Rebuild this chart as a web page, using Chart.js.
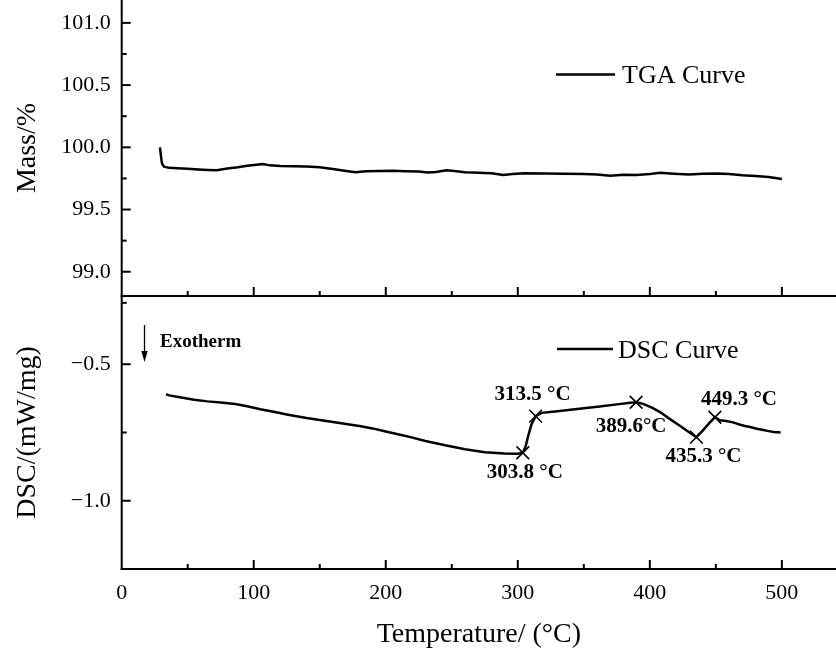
<!DOCTYPE html>
<html>
<head>
<meta charset="utf-8">
<script src="https://cdn.jsdelivr.net/npm/chart.js@4.4.1/dist/chart.umd.min.js"></script>
<style>
  html, body { margin: 0; padding: 0; background: #fff; overflow: hidden; }
  canvas { display: block; }
</style>
</head>
<body>
<canvas id="c" width="836" height="657"></canvas>
<script>
// ---------- data ----------
const tgaTemp = [29, 29.5, 30.5, 32, 36, 42, 50, 58, 65, 72, 80, 88, 95, 102, 107, 112, 120, 130, 140, 150, 160, 170, 177, 185, 195, 205, 215, 225, 232, 238, 246, 252, 260, 270, 280, 289, 296, 305, 320, 335, 350, 360, 370, 380, 390, 400, 408, 418, 430, 440, 450, 460, 470, 480, 490, 500];
const tgaMass = [100.0, 99.95, 99.87, 99.845, 99.835, 99.832, 99.828, 99.822, 99.818, 99.815, 99.83, 99.84, 99.852, 99.86, 99.865, 99.855, 99.85, 99.848, 99.845, 99.84, 99.825, 99.81, 99.8, 99.808, 99.81, 99.812, 99.808, 99.805, 99.798, 99.802, 99.815, 99.81, 99.8, 99.795, 99.792, 99.778, 99.785, 99.792, 99.79, 99.788, 99.785, 99.782, 99.772, 99.78, 99.778, 99.785, 99.795, 99.788, 99.782, 99.788, 99.79, 99.785, 99.775, 99.77, 99.762, 99.745];

const dscTemp = [33.6, 36, 45, 55, 65, 75, 86, 95, 105, 115, 127, 140, 155, 170, 180, 190, 200, 210, 218, 230, 245, 260, 275, 290, 300, 303.8, 306, 308, 310.4, 313.5, 318, 330, 340, 350, 362, 375, 385, 389.6, 395, 402, 408, 415, 423, 430, 435.3, 440, 445, 449.3, 453, 458, 463, 468, 472, 476, 481, 486, 490, 494, 499];
const dscValue = [-0.610, -0.614, -0.622, -0.630, -0.636, -0.640, -0.646, -0.654, -0.665, -0.674, -0.686, -0.697, -0.708, -0.719, -0.726, -0.735, -0.746, -0.757, -0.766, -0.781, -0.797, -0.811, -0.822, -0.827, -0.828, -0.824, -0.80, -0.76, -0.72, -0.69, -0.678, -0.672, -0.667, -0.661, -0.655, -0.647, -0.641, -0.639, -0.645, -0.660, -0.676, -0.700, -0.726, -0.750, -0.767, -0.743, -0.716, -0.694, -0.705, -0.708, -0.713, -0.721, -0.726, -0.730, -0.736, -0.741, -0.745, -0.748, -0.750];

const peakTemp = [303.8, 313.5, 389.6, 435.3, 449.3];
const peakValue = [-0.824, -0.69, -0.639, -0.767, -0.694];
const peakLabels = ['303.8 \u00B0C', '313.5 \u00B0C', '389.6\u00B0C', '435.3 \u00B0C', '449.3 \u00B0C'];

const xTickLabels = [0, 100, 200, 300, 400, 500];
const xMinorTicks = [50, 150, 250, 350, 450];
const massTickLabels = [99.0, 99.5, 100.0, 100.5, 101.0];
const massMinorTicks = [98.75, 99.25, 99.75, 100.25, 100.75];
const dscTickLabels = [-1.0, -0.5];
const dscMinorTicks = [-1.25, -0.75, -0.25];

// ---------- styling ----------
const SERIF = "'Liberation Serif', 'Times New Roman', serif";
const labelOffsets = [[2, 20], [-3, -22], [-5, 24], [7, 19], [24, -18]];

const axesPlugin = {
  id: 'axesPlugin',
  afterDatasetsDraw(chart) {
    const { ctx, chartArea: ca, scales } = chart;
    const x = scales.x, yM = scales.yM, yD = scales.yD;
    const sep = yM.bottom;
    ctx.save();
    ctx.strokeStyle = '#000';
    ctx.lineCap = 'butt';
    const seg = (x1, y1, x2, y2, w) => {
      ctx.lineWidth = w; ctx.beginPath(); ctx.moveTo(x1, y1); ctx.lineTo(x2, y2); ctx.stroke();
    };
    // axis lines
    seg(ca.left, ca.top, ca.left, ca.bottom + 1, 2);
    seg(ca.left - 1, sep, ca.right, sep, 2);
    seg(ca.left - 1, ca.bottom, ca.right, ca.bottom, 2);
    // x ticks (inward) on both panels
    xTickLabels.forEach(v => {
      if (v === 0) return;
      const px = x.getPixelForValue(v);
      seg(px, sep, px, sep - 9, 2);
      seg(px, ca.bottom, px, ca.bottom - 9, 2);
    });
    xMinorTicks.forEach(v => {
      const px = x.getPixelForValue(v);
      seg(px, sep, px, sep - 5, 2);
      seg(px, ca.bottom, px, ca.bottom - 5, 2);
    });
    // y ticks
    massTickLabels.forEach(v => { const py = yM.getPixelForValue(v); seg(ca.left, py, ca.left + 9, py, 2); });
    massMinorTicks.forEach(v => { const py = yM.getPixelForValue(v); seg(ca.left, py, ca.left + 5, py, 2); });
    dscTickLabels.forEach(v => { const py = yD.getPixelForValue(v); seg(ca.left, py, ca.left + 9, py, 2); });
    dscMinorTicks.forEach(v => { const py = yD.getPixelForValue(v); if (Math.abs(py - sep) > 2 && Math.abs(py - ca.bottom) > 2) seg(ca.left, py, ca.left + 5, py, 2); });

    // legends
    ctx.fillStyle = '#000';
    ctx.font = '26px ' + SERIF;
    ctx.textAlign = 'left';
    ctx.textBaseline = 'middle';
    seg(556, 74.5, 615, 74.5, 2.5);
    ctx.fillText(chart.data.datasets[0].label, 622, 76);
    seg(557, 349, 613, 349, 2.5);
    ctx.fillText(chart.data.datasets[1].label, 618, 351);

    // exotherm arrow + text
    const ax = 144.5;
    seg(ax, 325, ax, 354, 1.3);
    ctx.beginPath(); ctx.moveTo(ax - 3.2, 351); ctx.lineTo(ax + 3.2, 351); ctx.lineTo(ax, 362); ctx.closePath(); ctx.fill();
    ctx.font = 'bold 19px ' + SERIF;
    ctx.fillText('Exotherm', 160, 342);

    // peak labels
    ctx.font = 'bold 21px ' + SERIF;
    ctx.textAlign = 'center';
    peakTemp.forEach((t, i) => {
      const px = x.getPixelForValue(t), py = yD.getPixelForValue(peakValue[i]);
      ctx.fillText(peakLabels[i], px + labelOffsets[i][0], py + labelOffsets[i][1]);
    });
    ctx.restore();
  }
};

const pts = (xs, ys) => xs.map((v, i) => ({ x: v, y: ys[i] }));
const fmt = v => { const s = Number(v).toFixed(1); return s.replace('-', '\u2212'); };
const noPadY = s => { s.width = 121.7; s.paddingTop = 0; s.paddingBottom = 0; };

new Chart(document.getElementById('c').getContext('2d'), {
  type: 'scatter',
  data: {
    datasets: [
      { label: 'TGA Curve', data: pts(tgaTemp, tgaMass), yAxisID: 'yM', showLine: true, borderColor: '#000', borderWidth: 2.5, pointRadius: 0, tension: 0 },
      { label: 'DSC Curve', data: pts(dscTemp, dscValue), yAxisID: 'yD', showLine: true, borderColor: '#000', borderWidth: 2.5, pointRadius: 0, tension: 0 },
      { label: 'Peaks', data: pts(peakTemp, peakValue), yAxisID: 'yD', showLine: false, pointStyle: 'crossRot', pointRadius: 9, borderColor: '#000', borderWidth: 1.6, backgroundColor: '#000' }
    ]
  },
  options: {
    responsive: false,
    animation: false,
    devicePixelRatio: 1,
    layout: { padding: 0, autoPadding: false },
    plugins: { legend: { display: false }, tooltip: { enabled: false } },
    scales: {
      x: {
        type: 'linear', position: 'bottom', min: 0, max: 541,
        afterBuildTicks: s => { s.ticks = xTickLabels.map(v => ({ value: v })); },
        afterFit: s => { s.height = 88; s.paddingLeft = 0; s.paddingRight = 0; },
        grid: { display: false, drawTicks: false },
        border: { display: false },
        ticks: { autoSkip: false, maxRotation: 0, padding: 11, color: '#000', font: { family: SERIF, size: 22 }, callback: v => String(v) },
        title: { display: true, text: 'Temperature/ (\u00B0C)', color: '#000', font: { family: SERIF, size: 28 }, padding: { top: 0, bottom: 6 } }
      },
      yD: {
        type: 'linear', position: 'left', stack: 'panels', stackWeight: 273,
        min: -1.25, max: -0.25,
        afterBuildTicks: s => { s.ticks = dscTickLabels.map(v => ({ value: v })); },
        afterFit: noPadY,
        grid: { display: false, drawTicks: false },
        border: { display: false },
        ticks: { autoSkip: false, padding: 11, color: '#000', font: { family: SERIF, size: 22 }, callback: v => fmt(v) },
        title: { display: true, text: 'DSC/(mW/mg)', color: '#000', font: { family: SERIF, size: 28 }, padding: { top: 11, bottom: 0 } }
      },
      yM: {
        type: 'linear', position: 'left', stack: 'panels', stackWeight: 296,
        min: 98.805, max: 101.184,
        afterBuildTicks: s => { s.ticks = massTickLabels.map(v => ({ value: v })); },
        afterFit: noPadY,
        grid: { display: false, drawTicks: false },
        border: { display: false },
        ticks: { autoSkip: false, padding: 11, color: '#000', font: { family: SERIF, size: 22 }, callback: v => fmt(v) },
        title: { display: true, text: 'Mass/%', color: '#000', font: { family: SERIF, size: 28 }, padding: { top: 11, bottom: 0 } }
      }
    }
  },
  plugins: [axesPlugin]
});
</script>
</body>
</html>
